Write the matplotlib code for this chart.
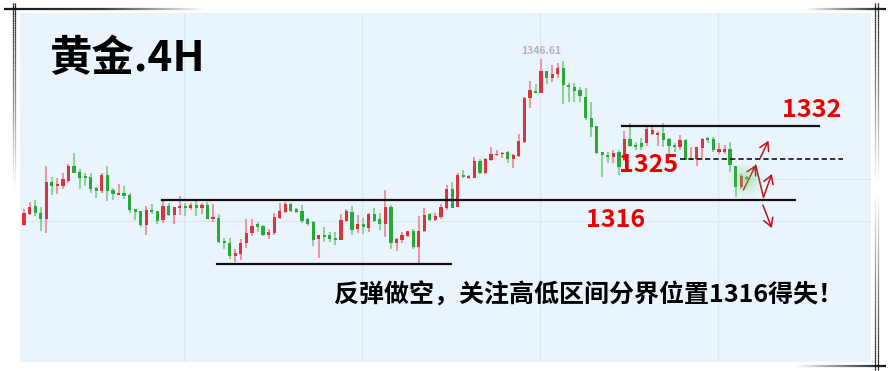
import numpy as np
import matplotlib
matplotlib.use("Agg")
import matplotlib.pyplot as plt
from matplotlib.collections import LineCollection
from matplotlib.patches import FancyArrowPatch

plt.rcParams['font.family'] = ['Noto Sans CJK SC', 'DejaVu Sans']

# ---- Gold 4H bars (oldest first) ----
opens = [
    1310.6, 1313.0, 1314.7, 1313.2, 1311.9, 1319.9, 1319.1, 1319.1, 1320.2, 1323.4,
    1322.1, 1321.3, 1321.0, 1318.7, 1318.0, 1321.4, 1318.2, 1317.4, 1317.5, 1317.1,
    1314.0, 1313.6, 1310.6, 1313.9, 1313.6, 1311.7, 1314.7, 1312.8, 1314.4, 1314.7,
    1314.3, 1314.9, 1314.2, 1315.0, 1311.9, 1312.1, 1307.1, 1306.7, 1303.9, 1304.3,
    1306.6, 1308.8, 1310.7, 1310.4, 1308.4, 1308.9, 1312.0, 1313.5, 1315.1, 1314.1,
    1313.6, 1311.9, 1311.3, 1307.5, 1308.6, 1308.4, 1307.7, 1307.3, 1311.5, 1313.5,
    1309.8, 1310.8, 1310.0, 1313.0, 1311.8, 1310.9, 1314.5, 1306.6, 1307.3, 1308.2,
    1309.3, 1305.8, 1309.3, 1313.0, 1311.7, 1312.4, 1314.2, 1318.3, 1314.4, 1321.4,
    1320.8, 1320.8, 1324.5, 1321.8, 1324.7, 1325.9, 1326.1, 1326.4, 1324.9, 1325.6,
    1328.7, 1338.1, 1339.8, 1339.3, 1344.0, 1342.5, 1343.5, 1344.6, 1341.0, 1340.6,
    1339.9, 1338.5, 1333.8, 1332.1, 1326.4, 1325.8, 1325.3, 1326.5, 1324.7, 1329.2,
    1328.0, 1328.3, 1328.3, 1330.3, 1330.3, 1330.6, 1329.2, 1328.0, 1327.5, 1329.0,
    1324.7, 1324.9, 1327.3, 1329.4, 1329.2, 1326.5, 1326.5, 1327.0, 1323.4, 1318.8,
    1320.9,
]
highs = [
    1314.0, 1315.6, 1316.0, 1314.5, 1323.4, 1321.0, 1320.8, 1321.9, 1323.8, 1326.2,
    1322.7, 1321.9, 1321.9, 1318.9, 1321.9, 1323.4, 1318.7, 1319.5, 1319.0, 1317.5,
    1314.0, 1313.6, 1314.7, 1315.1, 1313.7, 1316.0, 1315.3, 1314.5, 1316.9, 1315.3,
    1315.3, 1315.8, 1315.3, 1315.6, 1315.1, 1313.0, 1307.7, 1307.7, 1305.3, 1307.5,
    1311.8, 1311.8, 1311.2, 1310.6, 1309.8, 1313.1, 1315.4, 1315.6, 1315.3, 1314.3,
    1314.9, 1312.0, 1311.4, 1308.5, 1310.2, 1309.0, 1309.1, 1312.9, 1314.0, 1314.7,
    1312.7, 1312.0, 1313.1, 1314.2, 1313.1, 1318.2, 1314.9, 1307.7, 1309.1, 1309.3,
    1309.6, 1312.5, 1314.2, 1313.1, 1313.1, 1315.1, 1319.3, 1319.9, 1321.8, 1322.5,
    1321.4, 1325.3, 1324.9, 1325.1, 1327.5, 1326.9, 1326.5, 1326.7, 1325.9, 1330.3,
    1338.5, 1341.9, 1341.2, 1346.61, 1344.0, 1345.3, 1345.7, 1346.2, 1341.5, 1341.5,
    1340.6, 1340.3, 1337.2, 1332.1, 1326.4, 1326.5, 1326.9, 1326.9, 1331.0, 1332.8,
    1328.7, 1329.5, 1332.1, 1331.9, 1331.1, 1332.7, 1329.4, 1328.3, 1330.1, 1329.3,
    1327.6, 1327.5, 1329.4, 1329.8, 1329.8, 1328.3, 1327.9, 1328.7, 1323.4, 1321.7,
    1321.2,
]
lows = [
    1310.4, 1312.8, 1312.5, 1309.3, 1308.9, 1317.1, 1317.4, 1318.4, 1319.6, 1321.9,
    1318.4, 1319.0, 1317.6, 1316.5, 1317.6, 1315.8, 1316.0, 1317.3, 1316.3, 1313.2,
    1311.7, 1310.1, 1308.5, 1313.0, 1310.9, 1311.1, 1312.5, 1310.7, 1312.8, 1312.6,
    1313.8, 1312.6, 1312.9, 1311.9, 1311.2, 1306.6, 1305.3, 1303.2, 1302.6, 1303.0,
    1305.5, 1308.2, 1309.0, 1308.2, 1307.5, 1308.4, 1311.8, 1313.2, 1313.5, 1313.2,
    1311.1, 1310.3, 1306.1, 1303.5, 1306.9, 1306.9, 1306.2, 1307.3, 1311.3, 1308.4,
    1308.8, 1308.6, 1309.1, 1311.3, 1309.5, 1308.0, 1305.3, 1305.0, 1306.6, 1308.0,
    1305.3, 1302.4, 1309.1, 1311.5, 1311.5, 1311.8, 1313.8, 1314.2, 1314.4, 1320.7,
    1320.5, 1320.7, 1321.7, 1321.7, 1324.5, 1325.6, 1325.2, 1324.1, 1322.9, 1325.4,
    1328.5, 1335.9, 1339.2, 1339.2, 1341.2, 1341.6, 1342.5, 1336.9, 1337.4, 1337.4,
    1337.4, 1333.5, 1329.8, 1326.1, 1320.9, 1324.0, 1324.0, 1321.4, 1324.5, 1327.6,
    1326.9, 1326.9, 1327.7, 1330.1, 1327.7, 1327.5, 1325.8, 1326.5, 1326.9, 1324.7,
    1324.7, 1323.4, 1324.7, 1328.3, 1326.5, 1326.1, 1326.1, 1322.2, 1316.7, 1318.4,
    1320.3,
]
closes = [
    1313.1, 1314.5, 1313.2, 1311.9, 1319.9, 1319.1, 1319.5, 1320.6, 1323.5, 1321.9,
    1320.8, 1320.8, 1318.5, 1318.0, 1321.4, 1318.0, 1317.3, 1317.8, 1316.9, 1313.8,
    1313.4, 1310.6, 1313.8, 1313.4, 1311.4, 1314.7, 1312.8, 1314.5, 1314.7, 1314.2,
    1314.9, 1314.2, 1315.0, 1311.9, 1312.4, 1306.9, 1306.6, 1303.9, 1304.5, 1306.7,
    1308.9, 1310.3, 1310.2, 1308.4, 1309.1, 1312.4, 1313.6, 1315.1, 1313.7, 1313.4,
    1311.5, 1310.9, 1307.3, 1308.4, 1308.2, 1307.5, 1307.5, 1311.7, 1313.7, 1309.5,
    1310.8, 1310.2, 1313.0, 1311.4, 1310.8, 1314.5, 1306.6, 1307.5, 1308.4, 1309.3,
    1305.8, 1309.3, 1312.7, 1311.7, 1312.5, 1314.5, 1318.4, 1314.2, 1321.4, 1320.9,
    1321.3, 1324.5, 1321.8, 1324.9, 1325.9, 1326.2, 1326.4, 1324.9, 1325.7, 1328.8,
    1338.1, 1339.9, 1339.3, 1344.0, 1342.5, 1343.5, 1344.6, 1340.9, 1340.5, 1339.8,
    1338.7, 1333.8, 1331.9, 1326.3, 1325.8, 1325.3, 1326.3, 1323.1, 1329.2, 1327.7,
    1327.5, 1327.5, 1331.4, 1331.2, 1330.6, 1329.0, 1327.7, 1327.5, 1329.0, 1324.8,
    1325.2, 1327.5, 1329.3, 1329.0, 1326.9, 1327.0, 1327.0, 1323.6, 1318.9, 1321.2,
    1320.5,
]

# key levels drawn on the chart
level_values = [1316, 1332, 1325, 1302]
level_labels = ["1316", "1332", "1325"]
level_spans = [(24.8, 138.7), (107.6, 143.0), (118.0, 147.3), (34.7, 76.8)]

title = "黄金.4H"
note = "反弹做空，关注高低区间分界位置1316得失！"

# scenario arrows (bar index, price)
arrow_paths = [
    ((129.4, 1318.2), (131.6, 1323.6), True),
    ((131.6, 1323.6), (133.0, 1316.6), False),
    ((133.0, 1316.6), (134.5, 1321.7), True),
    ((132.4, 1325.1), (133.9, 1328.9), True),
    ((132.9, 1314.9), (134.5, 1309.9), True),
]

W, H = 890, 371
fig = plt.figure(figsize=(W / 100, H / 100), dpi=100)
fig.patch.set_facecolor("white")

# plotting panel in pixel bounds
px_l, px_r, px_t, px_b = 20, 871, 13, 362
ax = fig.add_axes([px_l / W, (H - px_b) / H, (px_r - px_l) / W, (px_b - px_t) / H])
ax.set_facecolor("#eaf4fd")
for s in ax.spines.values():
    s.set_visible(False)
ax.set_xlim(-0.72, 152.34)
ax.set_ylim(1280.8, 1356.65)
ax.set_xticks([28.8, 60.8, 92.8, 124.8])
ax.set_yticks([1311.4])
ax.tick_params(length=0, labelbottom=False, labelleft=False)
ax.grid(True, color="#dbe8f4", lw=0.8)
ax.axhline(1320.6, xmin=0.846, xmax=1.0, color="#dbe8f4", lw=0.8, zorder=0.5)
ax.set_axisbelow(True)

o = np.array(opens)
h = np.array(highs)
l = np.array(lows)
c = np.array(closes)
idx = np.arange(len(o))
up = c >= o

red_body, red_wick = "#d7353d", "#e69aa2"
grn_body, grn_wick = "#2aa93b", "#8fd29a"

wick_cols = np.where(up, red_wick, grn_wick)
ax.vlines(idx, l, h, colors=wick_cols, lw=1.5, zorder=2)
body_lo = np.minimum(o, c)
body_h = np.maximum(np.abs(c - o), 0.4)
ax.bar(idx, body_h, bottom=body_lo - np.where(np.abs(c - o) < 0.4, 0.2, 0), width=0.58,
       color=np.where(up, red_body, grn_body), linewidth=0, zorder=3)

# peak label
pk = int(np.argmax(h))
ax.annotate(f"{h[pk]:.2f}", (pk, h[pk]), xytext=(0, 2), textcoords="offset points",
            ha="center", va="bottom", fontsize=7.5, color="#b3b3b3", fontweight="bold",
            zorder=5)

# horizontal levels
for val, (x0, x1) in zip(level_values, level_spans):
    if val == 1325:
        ln, = ax.plot([x0, x1], [val, val], color="#111111", lw=1.2, zorder=4)
        ln.set_dashes([3.2, 1.8])
    else:
        ax.plot([x0, x1], [val, val], color="#111111", lw=1.6, zorder=4)

# arrows
for (p0, p1, head) in arrow_paths:
    style = "->,head_length=0.6,head_width=0.35" if head else "-"
    ax.add_patch(FancyArrowPatch(p0, p1, arrowstyle=style, mutation_scale=10,
                                 color="#b8141a", lw=1.1, shrinkA=0, shrinkB=0, zorder=6))

# overlay in pixel coordinates for text and frame ornaments
ov = fig.add_axes([0, 0, 1, 1], zorder=10)
ov.set_xlim(0, W)
ov.set_ylim(H, 0)
ov.axis("off")
ov.patch.set_alpha(0)

# soft green highlight around the latest bars
gx, gy, gr = 746, 180, 20
yy, xx = np.mgrid[-gr:gr:80j, -gr:gr:80j]
rr = np.sqrt(xx ** 2 + yy ** 2) / gr
glow = np.zeros((80, 80, 4))
glow[..., 0], glow[..., 1], glow[..., 2] = 0.40, 0.85, 0.40
glow[..., 3] = 0.55 * np.clip(1 - rr, 0, 1) ** 1.5
ov.imshow(glow, extent=(gx - gr, gx + gr, gy + gr, gy - gr), zorder=1, interpolation="bilinear")


def fade_line(p0, p1, a0, a1, lw, n=80):
    xs = np.linspace(p0[0], p1[0], n + 1)
    ys = np.linspace(p0[1], p1[1], n + 1)
    segs = [[(xs[i], ys[i]), (xs[i + 1], ys[i + 1])] for i in range(n)]
    al = np.linspace(a0, a1, n)
    cols = [(0.08, 0.08, 0.08, a) for a in al]
    ov.add_collection(LineCollection(segs, colors=cols, linewidths=lw, zorder=2))


# corner ornaments
fade_line((4, 8.5), (100, 8.5), 1, 0.85, 1.6)
fade_line((100, 8.5), (205, 8.5), 0.85, 0, 1.6)
fade_line((12.8, 3), (12.8, 190), 1, 0, 0.9)
fade_line((15.3, 3), (15.3, 190), 1, 0, 0.9)
fade_line((886, 8.5), (805, 8.5), 1, 0, 1.6)
fade_line((875, 3), (875, 185), 1, 0, 0.9)
fade_line((877.6, 3), (877.6, 185), 1, 0, 0.9)
fade_line((886, 366), (795, 366), 1, 0, 1.6)
fade_line((875, 370), (875, 190), 1, 0, 0.9)
fade_line((877.6, 370), (877.6, 190), 1, 0, 0.9)

# texts
ov.text(49, 71, title, fontsize=30.5, fontweight="bold", color="black", va="baseline", ha="left", zorder=5)
label_pos = [(586, 226.7), (782, 116.7), (619, 171.7)]
for txt, (x, y) in zip(level_labels, label_pos):
    ov.text(x, y, txt, fontsize=18, fontweight="bold", color="#e60000", va="baseline", ha="left", zorder=5)
ov.text(334, 302.5, note, fontsize=18, fontweight="bold", color="black", va="baseline", ha="left", zorder=5)

fig.savefig("out.png", dpi=100)
